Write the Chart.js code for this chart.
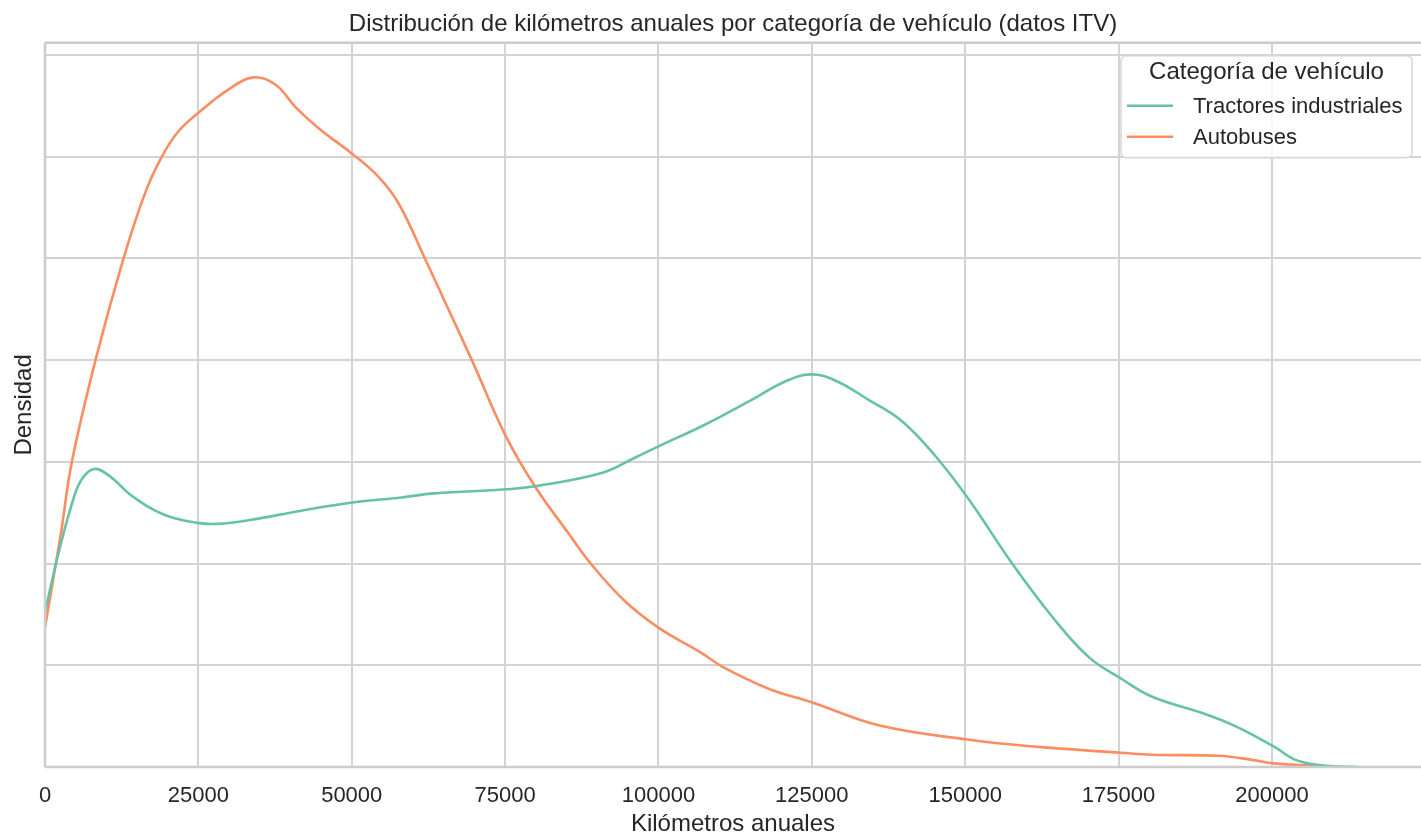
<!DOCTYPE html>
<html>
<head>
<meta charset="utf-8">
<script src="https://cdn.jsdelivr.net/npm/chart.js@4/dist/chart.umd.min.js"></script>
<style>
  html, body { margin: 0; padding: 0; background: #ffffff; }
  canvas { display: block; }
</style>
</head>
<body>
<canvas id="c" width="1421" height="839"></canvas>
<script>
// ---- Data (density in grid units) ----
const chartTitle = 'Distribución de kilómetros anuales por categoría de vehículo (datos ITV)';
const xTitle = 'Kilómetros anuales';
const yTitle = 'Densidad';
const legendTitle = 'Categoría de vehículo';
const seriesNames = ['Tractores industriales', 'Autobuses'];
const seriesColors = ['#66c2a5', '#fc8d62'];

const xTickValues = [0, 25000, 50000, 75000, 100000, 125000, 150000, 175000, 200000];
const yTickValues = [0, 1, 2, 3, 4, 5, 6, 7];

const kmTractores = [0, 2070, 4250, 5900, 8050, 10750, 14050, 19450, 24900, 28200, 33600,
  41800, 50100, 58100, 63500, 75250, 79850, 90750, 96150, 100250, 107050, 115200, 120650,
  124750, 128800, 134250, 139700, 145100, 150600, 157650, 164150, 170150, 175400, 180500,
  188650, 194100, 200350, 203850, 207700, 214000];
const densTractores = [1.52, 2.07, 2.56, 2.82, 2.93, 2.85, 2.67, 2.48, 2.40, 2.39, 2.43,
  2.52, 2.60, 2.65, 2.69, 2.73, 2.76, 2.89, 3.04, 3.16, 3.35, 3.61, 3.79,
  3.86, 3.80, 3.61, 3.40, 3.06, 2.63, 2.00, 1.48, 1.08, 0.87, 0.69,
  0.53, 0.40, 0.20, 0.07, 0.02, 0.0];

const kmAutobuses = [0, 2600, 4350, 8150, 12800, 16300, 19050, 21750, 25150, 29900, 34000,
  37550, 40800, 44600, 50050, 54400, 57650, 62000, 65300, 69650, 75050, 79850, 85300,
  89100, 94550, 100250, 107050, 110300, 117950, 125300, 135900, 150300, 161400, 175400,
  180500, 191400, 196800, 200350, 206600, 211000];
const densAutobuses = [1.37, 2.30, 2.99, 3.98, 5.00, 5.64, 6.00, 6.25, 6.44, 6.66, 6.78,
  6.71, 6.49, 6.28, 6.03, 5.80, 5.54, 4.99, 4.56, 3.99, 3.26, 2.76, 2.30,
  1.99, 1.63, 1.36, 1.12, 0.99, 0.77, 0.63, 0.41, 0.27, 0.20, 0.14,
  0.12, 0.11, 0.07, 0.036, 0.013, 0.0];

const xMin = 0, xMax = 224300;
const yMin = 0, yMax = 7.12;

const TEXT = '#262626';
const GRID = '#d3d3d3';
const SPINE = '#cccccc';
const FONT = "'Liberation Sans', Arial, sans-serif";

const framePlugin = {
  id: 'frame',
  afterDatasetsDraw(chart) {
    const {ctx, chartArea: a} = chart;
    ctx.save();
    ctx.strokeStyle = SPINE;
    ctx.lineWidth = 2.6;
    ctx.beginPath();
    ctx.moveTo(a.left, a.top); ctx.lineTo(a.right, a.top);
    ctx.moveTo(a.left, a.top); ctx.lineTo(a.left, a.bottom);
    ctx.moveTo(a.left, a.bottom); ctx.lineTo(a.right, a.bottom);
    ctx.stroke();
    ctx.restore();
  }
};

const legendPlugin = {
  id: 'boxLegend',
  afterDraw(chart) {
    const {ctx, chartArea: a} = chart;
    const w = 291, h = 102;
    const x = a.right - 9 - w, y = a.top + 13;
    ctx.save();
    const r = 5;
    ctx.beginPath();
    ctx.moveTo(x + r, y);
    ctx.arcTo(x + w, y, x + w, y + h, r);
    ctx.arcTo(x + w, y + h, x, y + h, r);
    ctx.arcTo(x, y + h, x, y, r);
    ctx.arcTo(x, y, x + w, y, r);
    ctx.closePath();
    ctx.fillStyle = 'rgba(255,255,255,0.8)';
    ctx.fill();
    ctx.strokeStyle = '#d6d6d6';
    ctx.lineWidth = 1.5;
    ctx.stroke();
    ctx.fillStyle = TEXT;
    ctx.textAlign = 'center';
    ctx.textBaseline = 'middle';
    ctx.font = '24px ' + FONT;
    ctx.fillText(legendTitle, x + w / 2, y + 17);
    ctx.font = '22px ' + FONT;
    ctx.textAlign = 'left';
    chart.data.datasets.forEach((ds, i) => {
      const ly = y + 50 + i * 31;
      ctx.strokeStyle = ds.borderColor;
      ctx.lineWidth = 2.6;
      ctx.beginPath();
      ctx.moveTo(x + 6, ly);
      ctx.lineTo(x + 52, ly);
      ctx.stroke();
      ctx.fillStyle = TEXT;
      ctx.fillText(ds.label, x + 72, ly + 1);
    });
    ctx.restore();
  }
};

const toPoints = (xs, ys) => xs.map((v, i) => ({x: v, y: ys[i]}));

new Chart(document.getElementById('c'), {
  type: 'line',
  data: {
    datasets: [
      { label: seriesNames[0], data: toPoints(kmTractores, densTractores),
        borderColor: seriesColors[0], borderWidth: 2.6, pointRadius: 0,
        tension: 0.4, fill: false },
      { label: seriesNames[1], data: toPoints(kmAutobuses, densAutobuses),
        borderColor: seriesColors[1], borderWidth: 2.6, pointRadius: 0,
        tension: 0.4, fill: false }
    ]
  },
  options: {
    responsive: false,
    animation: false,
    devicePixelRatio: 1,
    layout: { padding: { left: 0, right: 0, top: 0, bottom: 0 } },
    plugins: {
      legend: { display: false },
      tooltip: { enabled: false },
      title: {
        display: true, text: chartTitle, color: TEXT, fullSize: false,
        font: { family: FONT, size: 24, weight: 'normal' },
        padding: { top: 10, bottom: 4 }
      }
    },
    scales: {
      x: {
        type: 'linear', min: xMin, max: xMax,
        afterFit(s) { s.height = 72; },
        afterBuildTicks(s) { s.ticks = xTickValues.map(v => ({ value: v })); },
        ticks: { color: TEXT, padding: 16, autoSkip: false,
                 font: { family: FONT, size: 22 }, maxRotation: 0,
                 callback: v => String(v) },
        grid: { color: GRID, lineWidth: 2, drawTicks: false },
        border: { display: false },
        title: { display: true, text: xTitle, color: TEXT,
                 font: { family: FONT, size: 24 }, padding: { top: 0, bottom: 0 } }
      },
      y: {
        type: 'linear', min: yMin, max: yMax,
        afterFit(s) { s.width = 45; },
        afterBuildTicks(s) { s.ticks = yTickValues.map(v => ({ value: v })); },
        ticks: { display: false },
        grid: { color: GRID, lineWidth: 2, drawTicks: false },
        border: { display: false },
        title: { display: true, text: yTitle, color: TEXT,
                 font: { family: FONT, size: 24 }, padding: { top: 10, bottom: 0 } }
      }
    }
  },
  plugins: [framePlugin, legendPlugin]
});
</script>
</body>
</html>
